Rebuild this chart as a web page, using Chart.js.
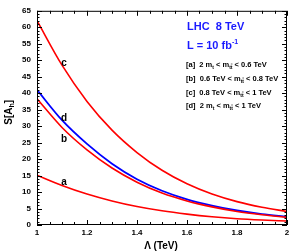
<!DOCTYPE html>
<html>
<head>
<meta charset="utf-8">
<script src="https://cdn.jsdelivr.net/npm/chart.js@4.4.1/dist/chart.umd.min.js"></script>
<style>
  html, body { margin: 0; padding: 0; background: #fff; }
  #wrap { width: 301px; height: 252px; }
</style>
</head>
<body>
<div id="wrap"><canvas id="grafico" width="301" height="252"></canvas></div>
<script>
// valores
const lambdas = [1.0, 1.1, 1.2, 1.3, 1.4, 1.5, 1.6, 1.7, 1.8, 1.9, 2.0];
const serieA = [15.1, 12.0, 9.4, 7.3, 5.6, 4.3, 3.3, 2.5, 1.9, 1.5, 1.2];
const serieB = [38.3, 29.6, 22.8, 17.3, 13.0, 9.7, 7.3, 5.5, 4.1, 3.1, 2.3];
const serieC = [62.0, 48.5, 37.5, 28.8, 22.0, 16.6, 12.5, 9.4, 7.1, 5.4, 4.1];
const serieD = [41.0, 31.8, 24.6, 18.6, 13.9, 10.4, 7.8, 5.9, 4.4, 3.3, 2.5];
const xTicks = [1, 1.2, 1.4, 1.6, 1.8, 2];
const yTicks = [0, 5, 10, 15, 20, 25, 30, 35, 40, 45, 50, 55, 60, 65];
const etiquetas = [
  { txt: "c", serie: serieC, dy: -2 },
  { txt: "d", serie: serieD, dy: -2 },
  { txt: "b", serie: serieB, dy: 12 },
  { txt: "a", serie: serieA, dy: -3 },
];

const toXY = (s) => lambdas.map((l, i) => ({ x: l, y: s[i] }));
const FONT = "'Liberation Sans', Arial, sans-serif";

const mkSet = (data, color, w) => ({
  data: toXY(data), borderColor: color, borderWidth: w,
  pointRadius: 0, fill: false, tension: 0.4, cubicInterpolationMode: "monotone",
});

// marco, ticks menores y textos
const decoraciones = {
  id: "decoraciones",
  afterDraw(chart) {
    const { ctx, chartArea: a, scales } = chart;
    const sx = scales.x, sy = scales.y;
    ctx.save();
    ctx.strokeStyle = "#000";
    ctx.lineWidth = 1;
    ctx.strokeRect(a.left + 0.5, a.top + 0.5, a.right - a.left - 1, a.bottom - a.top - 1);
    ctx.beginPath();
    for (let k = 0; k <= 20; k++) {
      const v = 1 + k * 0.05;
      const px = Math.round(sx.getPixelForValue(v)) + 0.5;
      const len = k % 4 === 0 ? 5 : 3;
      ctx.moveTo(px, a.bottom); ctx.lineTo(px, a.bottom - len);
      ctx.moveTo(px, a.top); ctx.lineTo(px, a.top + len);
    }
    for (let v = 0; v <= 65; v++) {
      const py = Math.round(sy.getPixelForValue(v)) + 0.5;
      const len = v % 5 === 0 ? 5 : 2.5;
      ctx.moveTo(a.left, py); ctx.lineTo(a.left + len, py);
      ctx.moveTo(a.right, py); ctx.lineTo(a.right - len, py);
    }
    ctx.stroke();

    // letras de las curvas (en lambda = 1.1)
    ctx.fillStyle = "#000";
    ctx.font = "bold 10px " + FONT;
    ctx.textAlign = "center";
    ctx.textBaseline = "middle";
    etiquetas.forEach((e) => {
      ctx.fillText(e.txt, sx.getPixelForValue(lambdas[1]) + 2, sy.getPixelForValue(e.serie[1]) + e.dy);
    });

    // titulo eje x
    ctx.font = "bold 10px " + FONT;
    ctx.fillText("\u039b (TeV)", (a.left + a.right) / 2 - 1, 246);

    // titulo eje y
    ctx.save();
    ctx.translate(9, 112);
    ctx.rotate(-Math.PI / 2);
    ctx.font = "bold 10px " + FONT;
    ctx.textAlign = "left";
    const p1 = "S[A";
    const w1 = ctx.measureText(p1).width;
    ctx.font = "bold 7px " + FONT;
    const w2 = ctx.measureText("h").width;
    const total = w1 + w2 + 4;
    ctx.font = "bold 10px " + FONT;
    ctx.fillText(p1, -total / 2, 0);
    ctx.font = "bold 7px " + FONT;
    ctx.fillText("h", -total / 2 + w1, 3);
    ctx.font = "bold 10px " + FONT;
    ctx.fillText("]", -total / 2 + w1 + w2, 0);
    ctx.restore();

    // cajas de texto
    ctx.textAlign = "left";
    ctx.textBaseline = "alphabetic";
    ctx.fillStyle = "#1a1aff";
    ctx.font = "bold 11px " + FONT;
    ctx.fillText("LHC  8 TeV", 187, 30);
    ctx.fillText("L = 10 fb", 187, 49);
    const wl = ctx.measureText("L = 10 fb").width;
    ctx.font = "bold 7px " + FONT;
    ctx.fillText("-1", 187 + wl, 44);

    ctx.fillStyle = "#000";
    const filas = [
      ["[a]  2 m", "t", " < m", "tt", " < 0.6 TeV"],
      ["[b]  0.6 TeV < m", "tt", " < 0.8 TeV"],
      ["[c]  0.8 TeV < m", "tt", " < 1 TeV"],
      ["[d]  2 m", "t", " < m", "tt", " < 1 TeV"],
    ];
    const ys = [67, 81, 95, 108];
    filas.forEach((f, r) => {
      let x = 186;
      f.forEach((p, j) => {
        const sub = j % 2 === 1;
        ctx.font = (sub ? "bold 5px " : "bold 7.5px ") + FONT;
        const yy = ys[r] + (sub ? 2 : 0);
        ctx.fillText(p, x, yy);
        const w = ctx.measureText(p).width;
        if (sub && p === "tt") {
          const wt = ctx.measureText("t").width;
          ctx.beginPath();
          ctx.lineWidth = 0.6;
          ctx.moveTo(x + wt, yy - 5); ctx.lineTo(x + w, yy - 5);
          ctx.stroke();
        }
        x += w;
      });
    });
    ctx.restore();
  },
};

new Chart(document.getElementById("grafico").getContext("2d"), {
  type: "line",
  data: {
    datasets: [
      mkSet(serieA, "#ff0000", 1.6),
      mkSet(serieB, "#ff0000", 1.6),
      mkSet(serieC, "#ff0000", 1.6),
      mkSet(serieD, "#0000ff", 1.8),
    ],
  },
  options: {
    responsive: false,
    animation: false,
    layout: { padding: { left: 0, right: 14, top: 10, bottom: 0 } },
    plugins: { legend: { display: false }, tooltip: { enabled: false } },
    scales: {
      x: {
        type: "linear", min: 1, max: 2,
        afterFit: (s) => { s.height = 27; },
        afterBuildTicks: (s) => { s.ticks = xTicks.map((v) => ({ value: v })); },
        grid: { display: false, drawTicks: false },
        border: { display: false },
        ticks: {
          color: "#000", padding: 3, maxRotation: 0,
          font: { family: FONT, size: 8, weight: "bold" },
          callback: (v) => String(+Number(v).toFixed(1)),
        },
      },
      y: {
        min: 0, max: 65,
        afterFit: (s) => { s.width = 37; },
        afterBuildTicks: (s) => { s.ticks = yTicks.map((v) => ({ value: v })); },
        grid: { display: false, drawTicks: false },
        border: { display: false },
        ticks: {
          color: "#000", padding: 6,
          font: { family: FONT, size: 8, weight: "bold" },
        },
      },
    },
  },
  plugins: [decoraciones],
});
</script>
</body>
</html>
